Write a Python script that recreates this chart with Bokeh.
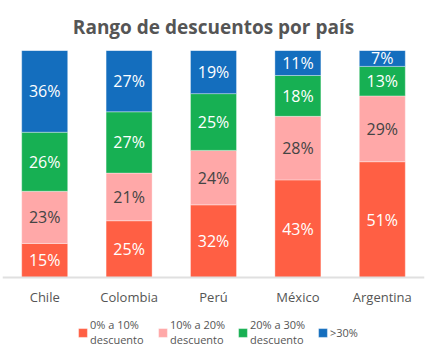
from bokeh.plotting import figure
from bokeh.models import ColumnDataSource, FactorRange, Legend, LegendItem, CategoricalAxis
from bokeh.core.properties import value
from bokeh.embed import file_html
from bokeh.resources import INLINE

countries = ["Chile", "Colombia", "Perú", "México", "Argentina"]
r0_10 = [15, 25, 32, 43, 51]
r10_20 = [23, 21, 24, 28, 29]
r20_30 = [26, 27, 25, 18, 13]
r30 = [36, 27, 19, 11, 7]
series_names = ["0% a 10%\ndescuento", "10% a 20%\ndescuento", "20% a 30%\ndescuento", ">30%"]
colors = ["#FF5F44", "#FFA8A8", "#17B053", "#146EBE"]
text_colors = ["white", "#444444", "white", "white"]

FONT = "Open Sans"

p = figure(x_range=FactorRange(*countries, range_padding=0), y_range=(-32.6, 100),
           width=428, height=351, output_backend="svg", toolbar_location=None,
           title="Rango de descuentos por país", x_axis_location=None, y_axis_location=None,
           min_border_left=2, min_border_right=4, min_border_top=0, min_border_bottom=0)
p.title.align = "center"
p.title.text_font = FONT
p.title.text_font_size = "19px"
p.title.text_font_style = "bold"
p.title.text_color = "#555555"
p.title.offset = 0
p.title.standoff = 22

keys = ["a", "b", "c", "d"]
data = {"x": countries, "a": r0_10, "b": r10_20, "c": r20_30, "d": r30}
src = ColumnDataSource(data)
renderers = p.vbar_stack(keys, x="x", width=0.545, source=src, color=colors,
                         line_color="white", line_alpha=0.35, line_width=1)

# labels
series = [r0_10, r10_20, r20_30, r30]
bottom = [0] * len(countries)
for vals, tc in zip(series, text_colors):
    mids = [b + v / 2 for b, v in zip(bottom, vals)]
    labels = [f"{v}%" for v in vals]
    p.text(x=countries, y=mids, text=labels, text_align="center", text_baseline="middle",
           text_font=value(FONT), text_font_size="16px", text_color=tc)
    bottom = [b + v for b, v in zip(bottom, vals)]

xaxis = CategoricalAxis(fixed_location=0)
p.add_layout(xaxis, "below")
xaxis.axis_line_color = "#E0E0E0"
xaxis.axis_line_width = 2
xaxis.major_tick_line_color = None
xaxis.minor_tick_line_color = None
xaxis.major_label_text_font = FONT
xaxis.major_label_text_font_size = "13px"
xaxis.major_label_text_color = "#555555"
xaxis.major_label_standoff = 5

legend = Legend(items=[LegendItem(label=n, renderers=[r]) for n, r in zip(series_names, renderers)],
                orientation="horizontal", location=(75, 4),
                label_text_font=FONT, label_text_font_size="11px", label_text_color="#555555",
                label_text_line_height=1.7,
                glyph_width=11, glyph_height=11, label_standoff=2, spacing=5, label_width=62,
                border_line_color=None, background_fill_alpha=0, padding=0, margin=0)
p.add_layout(legend)

p.xgrid.grid_line_color = None
p.ygrid.grid_line_color = None
p.outline_line_color = None

open("out.html", "w").write(file_html(p, INLINE))
